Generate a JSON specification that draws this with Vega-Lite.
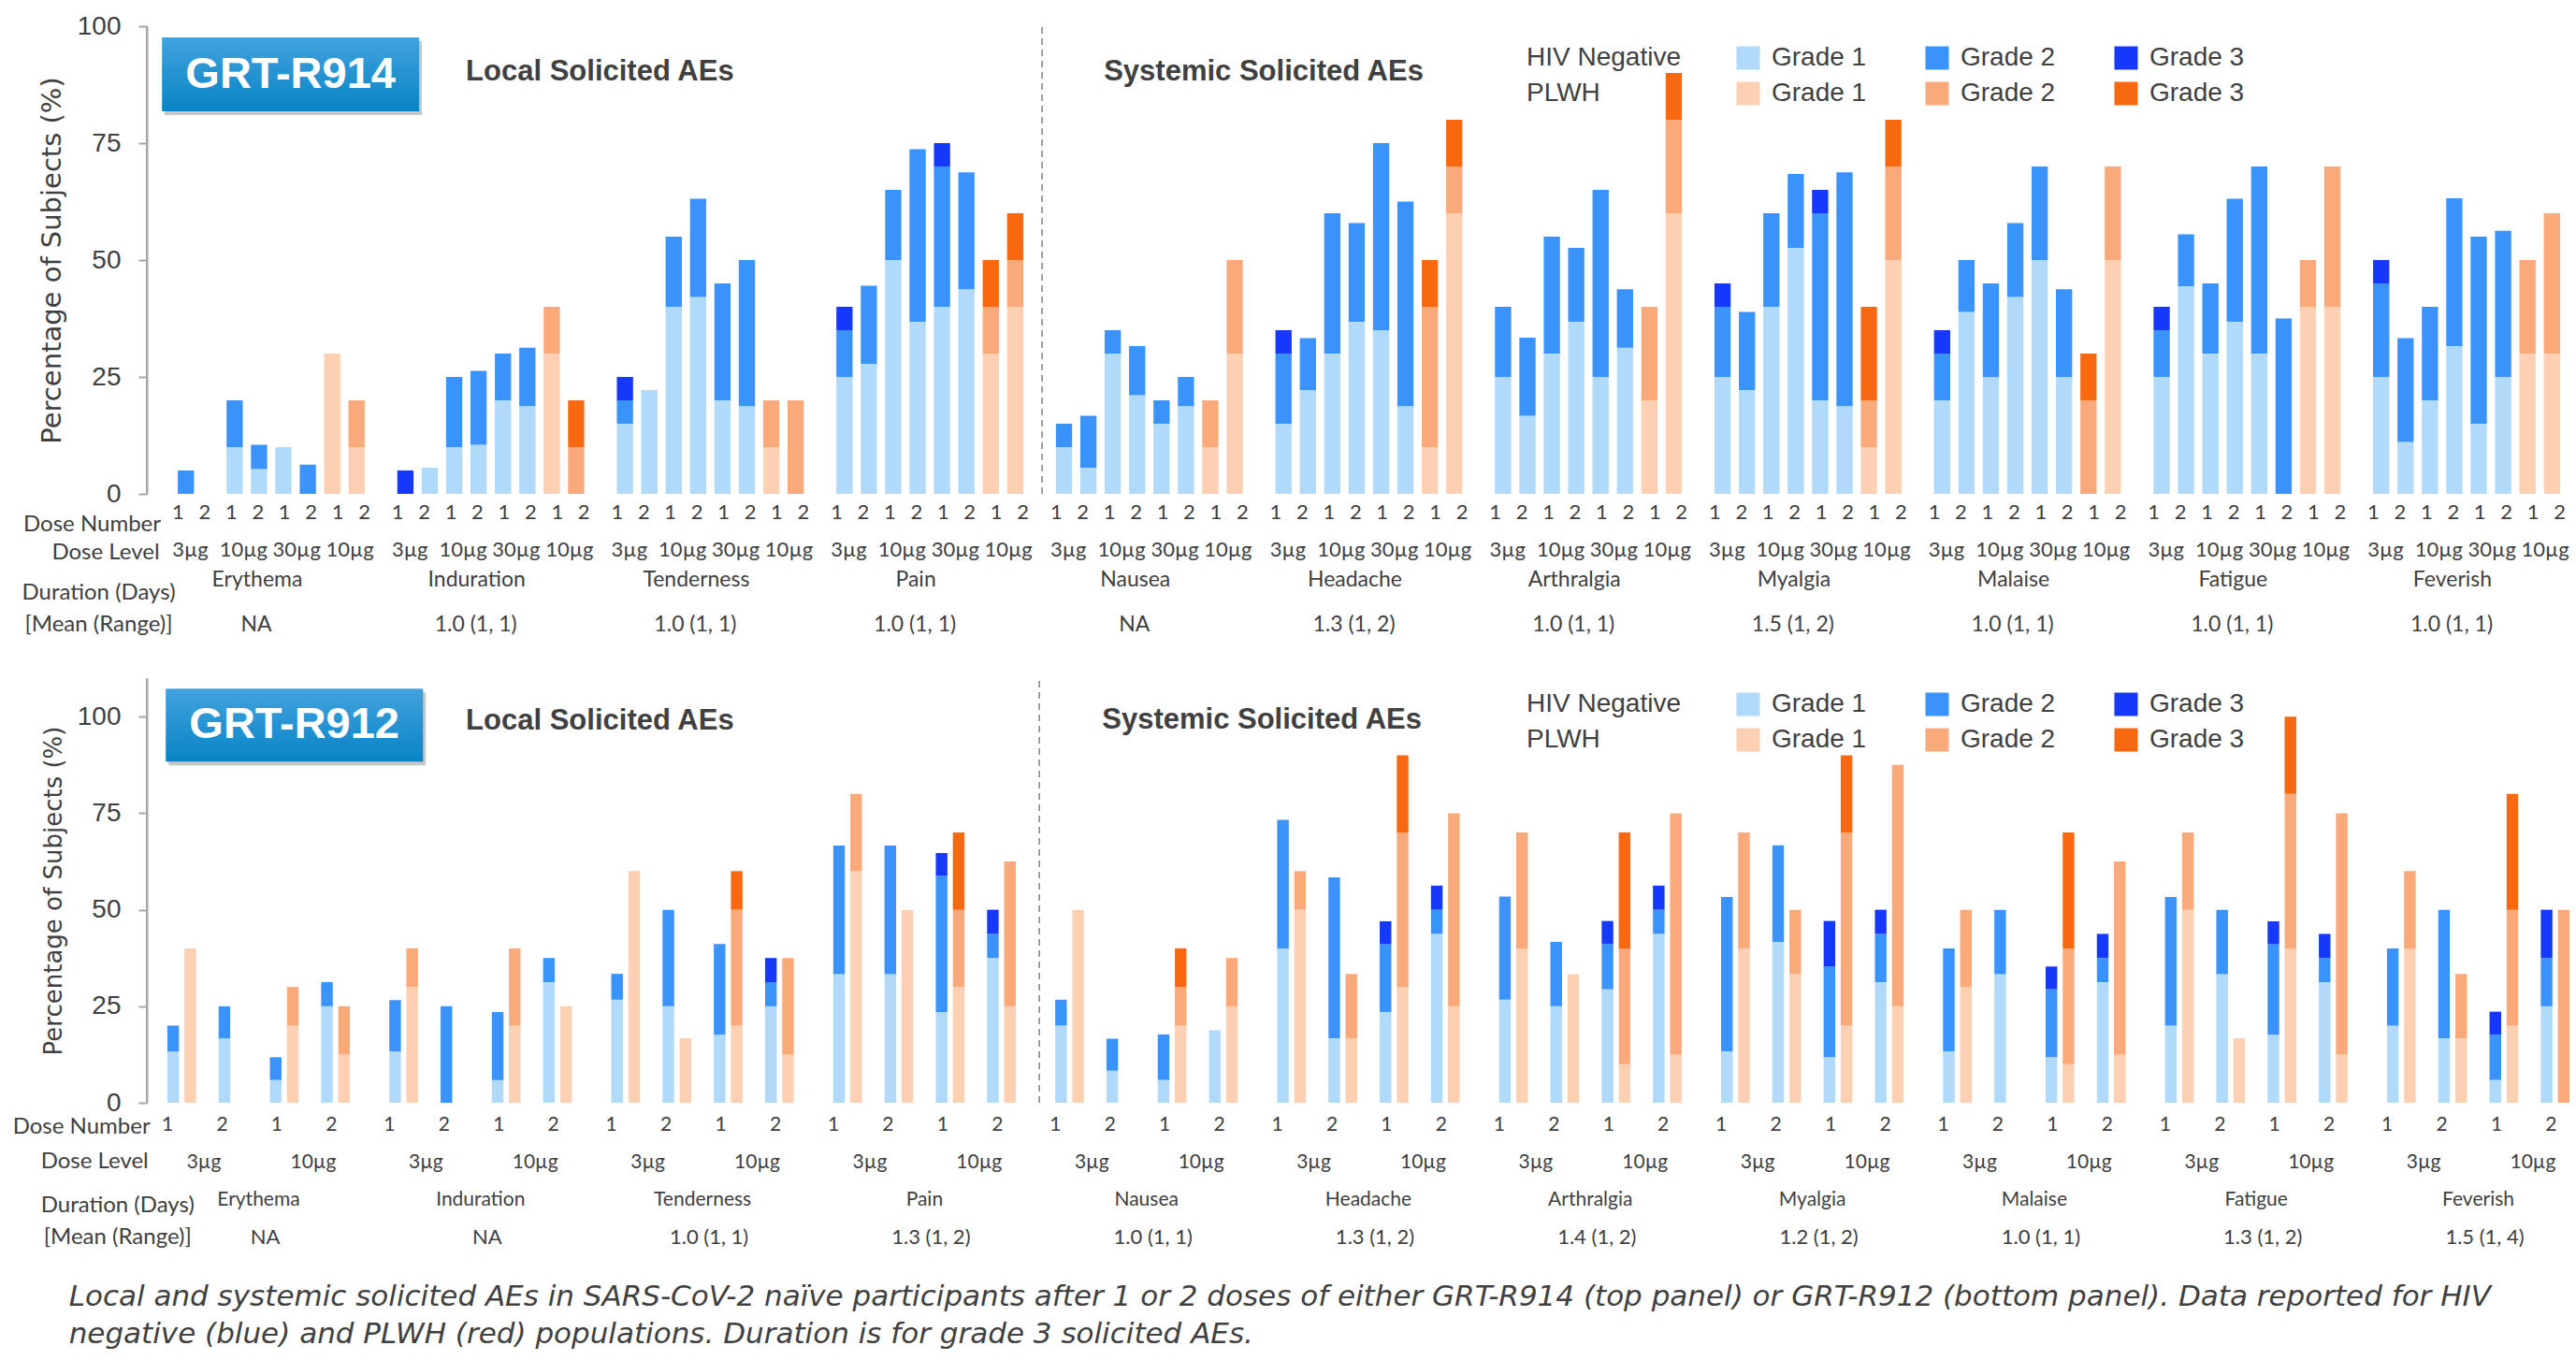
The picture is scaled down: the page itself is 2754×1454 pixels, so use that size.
{
  "$schema": "https://vega.github.io/schema/vega-lite/v6.json",
  "padding": {"left": 13, "top": 14, "right": 0, "bottom": 0},
  "background": "white",
  "title": {
    "text": ["Local and systemic solicited AEs in SARS-CoV-2 naïve participants after 1 or 2 doses of either GRT-R914 (top panel) or GRT-R912 (bottom panel). Data reported for HIV", "negative (blue) and PLWH (red) populations.  Duration is for grade 3 solicited AEs."],
    "orient": "bottom", "anchor": "start", "font": "DejaVu Sans", "fontStyle": "italic", "fontWeight": "normal",
    "fontSize": 31, "color": "#404040", "lineHeight": 40, "offset": 25, "dx": 60
  },
  "datasets": {
    "one": [{}],
    "top": [
      {"ae":"Erythema","bar":"3µg d1","N2":5},
      {"ae":"Erythema","bar":"10µg d1","N1":10,"N2":10},
      {"ae":"Erythema","bar":"10µg d2","N1":5.3,"N2":5.2},
      {"ae":"Erythema","bar":"30µg d1","N1":10},
      {"ae":"Erythema","bar":"30µg d2","N2":6.25},
      {"ae":"Erythema","bar":"PLWH d1","P1":30},
      {"ae":"Erythema","bar":"PLWH d2","P1":10,"P2":10},
      {"ae":"Induration","bar":"3µg d1","N3":5},
      {"ae":"Induration","bar":"3µg d2","N1":5.6},
      {"ae":"Induration","bar":"10µg d1","N1":10,"N2":15},
      {"ae":"Induration","bar":"10µg d2","N1":10.5,"N2":15.8},
      {"ae":"Induration","bar":"30µg d1","N1":20,"N2":10},
      {"ae":"Induration","bar":"30µg d2","N1":18.75,"N2":12.5},
      {"ae":"Induration","bar":"PLWH d1","P1":30,"P2":10},
      {"ae":"Induration","bar":"PLWH d2","P2":10,"P3":10},
      {"ae":"Tenderness","bar":"3µg d1","N1":15,"N2":5,"N3":5},
      {"ae":"Tenderness","bar":"3µg d2","N1":22.2},
      {"ae":"Tenderness","bar":"10µg d1","N1":40,"N2":15},
      {"ae":"Tenderness","bar":"10µg d2","N1":42.1,"N2":21},
      {"ae":"Tenderness","bar":"30µg d1","N1":20,"N2":25},
      {"ae":"Tenderness","bar":"30µg d2","N1":18.75,"N2":31.25},
      {"ae":"Tenderness","bar":"PLWH d1","P1":10,"P2":10},
      {"ae":"Tenderness","bar":"PLWH d2","P2":20},
      {"ae":"Pain","bar":"3µg d1","N1":25,"N2":10,"N3":5},
      {"ae":"Pain","bar":"3µg d2","N1":27.8,"N2":16.7},
      {"ae":"Pain","bar":"10µg d1","N1":50,"N2":15},
      {"ae":"Pain","bar":"10µg d2","N1":36.8,"N2":36.9},
      {"ae":"Pain","bar":"30µg d1","N1":40,"N2":30,"N3":5},
      {"ae":"Pain","bar":"30µg d2","N1":43.75,"N2":25},
      {"ae":"Pain","bar":"PLWH d1","P1":30,"P2":10,"P3":10},
      {"ae":"Pain","bar":"PLWH d2","P1":40,"P2":10,"P3":10},
      {"ae":"Nausea","bar":"3µg d1","N1":10,"N2":5},
      {"ae":"Nausea","bar":"3µg d2","N1":5.6,"N2":11.1},
      {"ae":"Nausea","bar":"10µg d1","N1":30,"N2":5},
      {"ae":"Nausea","bar":"10µg d2","N1":21.1,"N2":10.5},
      {"ae":"Nausea","bar":"30µg d1","N1":15,"N2":5},
      {"ae":"Nausea","bar":"30µg d2","N1":18.75,"N2":6.25},
      {"ae":"Nausea","bar":"PLWH d1","P1":10,"P2":10},
      {"ae":"Nausea","bar":"PLWH d2","P1":30,"P2":20},
      {"ae":"Headache","bar":"3µg d1","N1":15,"N2":15,"N3":5},
      {"ae":"Headache","bar":"3µg d2","N1":22.2,"N2":11.1},
      {"ae":"Headache","bar":"10µg d1","N1":30,"N2":30},
      {"ae":"Headache","bar":"10µg d2","N1":36.8,"N2":21.1},
      {"ae":"Headache","bar":"30µg d1","N1":35,"N2":40},
      {"ae":"Headache","bar":"30µg d2","N1":18.75,"N2":43.75},
      {"ae":"Headache","bar":"PLWH d1","P1":10,"P2":30,"P3":10},
      {"ae":"Headache","bar":"PLWH d2","P1":60,"P2":10,"P3":10},
      {"ae":"Arthralgia","bar":"3µg d1","N1":25,"N2":15},
      {"ae":"Arthralgia","bar":"3µg d2","N1":16.7,"N2":16.7},
      {"ae":"Arthralgia","bar":"10µg d1","N1":30,"N2":25},
      {"ae":"Arthralgia","bar":"10µg d2","N1":36.8,"N2":15.8},
      {"ae":"Arthralgia","bar":"30µg d1","N1":25,"N2":40},
      {"ae":"Arthralgia","bar":"30µg d2","N1":31.25,"N2":12.5},
      {"ae":"Arthralgia","bar":"PLWH d1","P1":20,"P2":20},
      {"ae":"Arthralgia","bar":"PLWH d2","P1":60,"P2":20,"P3":10},
      {"ae":"Myalgia","bar":"3µg d1","N1":25,"N2":15,"N3":5},
      {"ae":"Myalgia","bar":"3µg d2","N1":22.2,"N2":16.7},
      {"ae":"Myalgia","bar":"10µg d1","N1":40,"N2":20},
      {"ae":"Myalgia","bar":"10µg d2","N1":52.6,"N2":15.8},
      {"ae":"Myalgia","bar":"30µg d1","N1":20,"N2":40,"N3":5},
      {"ae":"Myalgia","bar":"30µg d2","N1":18.75,"N2":50},
      {"ae":"Myalgia","bar":"PLWH d1","P1":10,"P2":10,"P3":20},
      {"ae":"Myalgia","bar":"PLWH d2","P1":50,"P2":20,"P3":10},
      {"ae":"Malaise","bar":"3µg d1","N1":20,"N2":10,"N3":5},
      {"ae":"Malaise","bar":"3µg d2","N1":38.9,"N2":11.1},
      {"ae":"Malaise","bar":"10µg d1","N1":25,"N2":20},
      {"ae":"Malaise","bar":"10µg d2","N1":42.1,"N2":15.8},
      {"ae":"Malaise","bar":"30µg d1","N1":50,"N2":20},
      {"ae":"Malaise","bar":"30µg d2","N1":25,"N2":18.75},
      {"ae":"Malaise","bar":"PLWH d1","P2":20,"P3":10},
      {"ae":"Malaise","bar":"PLWH d2","P1":50,"P2":20},
      {"ae":"Fatigue","bar":"3µg d1","N1":25,"N2":10,"N3":5},
      {"ae":"Fatigue","bar":"3µg d2","N1":44.4,"N2":11.1},
      {"ae":"Fatigue","bar":"10µg d1","N1":30,"N2":15},
      {"ae":"Fatigue","bar":"10µg d2","N1":36.8,"N2":26.3},
      {"ae":"Fatigue","bar":"30µg d1","N1":30,"N2":40},
      {"ae":"Fatigue","bar":"30µg d2","N2":37.5},
      {"ae":"Fatigue","bar":"PLWH d1","P1":40,"P2":10},
      {"ae":"Fatigue","bar":"PLWH d2","P1":40,"P2":30},
      {"ae":"Feverish","bar":"3µg d1","N1":25,"N2":20,"N3":5},
      {"ae":"Feverish","bar":"3µg d2","N1":11.1,"N2":22.2},
      {"ae":"Feverish","bar":"10µg d1","N1":20,"N2":20},
      {"ae":"Feverish","bar":"10µg d2","N1":31.6,"N2":31.6},
      {"ae":"Feverish","bar":"30µg d1","N1":15,"N2":40},
      {"ae":"Feverish","bar":"30µg d2","N1":25,"N2":31.25},
      {"ae":"Feverish","bar":"PLWH d1","P1":30,"P2":20},
      {"ae":"Feverish","bar":"PLWH d2","P1":30,"P2":30}
    ],
    "bot": [
      {"ae":"Erythema","slot":"3µg d1 N","N1":13.3,"N2":6.7},
      {"ae":"Erythema","slot":"3µg d1 P","P1":40},
      {"ae":"Erythema","slot":"3µg d2 N","N1":16.7,"N2":8.3},
      {"ae":"Erythema","slot":"10µg d1 N","N1":5.9,"N2":5.9},
      {"ae":"Erythema","slot":"10µg d1 P","P1":20,"P2":10},
      {"ae":"Erythema","slot":"10µg d2 N","N1":25,"N2":6.25},
      {"ae":"Erythema","slot":"10µg d2 P","P1":12.5,"P2":12.5},
      {"ae":"Induration","slot":"3µg d1 N","N1":13.3,"N2":13.3},
      {"ae":"Induration","slot":"3µg d1 P","P1":30,"P2":10},
      {"ae":"Induration","slot":"3µg d2 N","N2":25},
      {"ae":"Induration","slot":"10µg d1 N","N1":5.9,"N2":17.6},
      {"ae":"Induration","slot":"10µg d1 P","P1":20,"P2":20},
      {"ae":"Induration","slot":"10µg d2 N","N1":31.25,"N2":6.25},
      {"ae":"Induration","slot":"10µg d2 P","P1":25},
      {"ae":"Tenderness","slot":"3µg d1 N","N1":26.7,"N2":6.7},
      {"ae":"Tenderness","slot":"3µg d1 P","P1":60},
      {"ae":"Tenderness","slot":"3µg d2 N","N1":25,"N2":25},
      {"ae":"Tenderness","slot":"3µg d2 P","P1":16.7},
      {"ae":"Tenderness","slot":"10µg d1 N","N1":17.6,"N2":23.5},
      {"ae":"Tenderness","slot":"10µg d1 P","P1":20,"P2":30,"P3":10},
      {"ae":"Tenderness","slot":"10µg d2 N","N1":25,"N2":6.25,"N3":6.25},
      {"ae":"Tenderness","slot":"10µg d2 P","P1":12.5,"P2":25},
      {"ae":"Pain","slot":"3µg d1 N","N1":33.3,"N2":33.3},
      {"ae":"Pain","slot":"3µg d1 P","P1":60,"P2":20},
      {"ae":"Pain","slot":"3µg d2 N","N1":33.3,"N2":33.3},
      {"ae":"Pain","slot":"3µg d2 P","P1":50},
      {"ae":"Pain","slot":"10µg d1 N","N1":23.5,"N2":35.3,"N3":5.9},
      {"ae":"Pain","slot":"10µg d1 P","P1":30,"P2":20,"P3":20},
      {"ae":"Pain","slot":"10µg d2 N","N1":37.5,"N2":6.25,"N3":6.25},
      {"ae":"Pain","slot":"10µg d2 P","P1":25,"P2":37.5},
      {"ae":"Nausea","slot":"3µg d1 N","N1":20,"N2":6.7},
      {"ae":"Nausea","slot":"3µg d1 P","P1":50},
      {"ae":"Nausea","slot":"3µg d2 N","N1":8.3,"N2":8.3},
      {"ae":"Nausea","slot":"10µg d1 N","N1":5.9,"N2":11.8},
      {"ae":"Nausea","slot":"10µg d1 P","P1":20,"P2":10,"P3":10},
      {"ae":"Nausea","slot":"10µg d2 N","N1":18.75},
      {"ae":"Nausea","slot":"10µg d2 P","P1":25,"P2":12.5},
      {"ae":"Headache","slot":"3µg d1 N","N1":40,"N2":33.3},
      {"ae":"Headache","slot":"3µg d1 P","P1":50,"P2":10},
      {"ae":"Headache","slot":"3µg d2 N","N1":16.7,"N2":41.7},
      {"ae":"Headache","slot":"3µg d2 P","P1":16.7,"P2":16.7},
      {"ae":"Headache","slot":"10µg d1 N","N1":23.5,"N2":17.6,"N3":5.9},
      {"ae":"Headache","slot":"10µg d1 P","P1":30,"P2":40,"P3":20},
      {"ae":"Headache","slot":"10µg d2 N","N1":43.75,"N2":6.25,"N3":6.25},
      {"ae":"Headache","slot":"10µg d2 P","P1":25,"P2":50},
      {"ae":"Arthralgia","slot":"3µg d1 N","N1":26.7,"N2":26.7},
      {"ae":"Arthralgia","slot":"3µg d1 P","P1":40,"P2":30},
      {"ae":"Arthralgia","slot":"3µg d2 N","N1":25,"N2":16.7},
      {"ae":"Arthralgia","slot":"3µg d2 P","P1":33.3},
      {"ae":"Arthralgia","slot":"10µg d1 N","N1":29.4,"N2":11.8,"N3":5.9},
      {"ae":"Arthralgia","slot":"10µg d1 P","P1":10,"P2":30,"P3":30},
      {"ae":"Arthralgia","slot":"10µg d2 N","N1":43.75,"N2":6.25,"N3":6.25},
      {"ae":"Arthralgia","slot":"10µg d2 P","P1":12.5,"P2":62.5},
      {"ae":"Myalgia","slot":"3µg d1 N","N1":13.3,"N2":40},
      {"ae":"Myalgia","slot":"3µg d1 P","P1":40,"P2":30},
      {"ae":"Myalgia","slot":"3µg d2 N","N1":41.7,"N2":25},
      {"ae":"Myalgia","slot":"3µg d2 P","P1":33.3,"P2":16.7},
      {"ae":"Myalgia","slot":"10µg d1 N","N1":11.8,"N2":23.5,"N3":11.8},
      {"ae":"Myalgia","slot":"10µg d1 P","P1":20,"P2":50,"P3":20},
      {"ae":"Myalgia","slot":"10µg d2 N","N1":31.25,"N2":12.5,"N3":6.25},
      {"ae":"Myalgia","slot":"10µg d2 P","P1":25,"P2":62.5},
      {"ae":"Malaise","slot":"3µg d1 N","N1":13.3,"N2":26.7},
      {"ae":"Malaise","slot":"3µg d1 P","P1":30,"P2":20},
      {"ae":"Malaise","slot":"3µg d2 N","N1":33.3,"N2":16.7},
      {"ae":"Malaise","slot":"10µg d1 N","N1":11.8,"N2":17.6,"N3":5.9},
      {"ae":"Malaise","slot":"10µg d1 P","P1":10,"P2":30,"P3":30},
      {"ae":"Malaise","slot":"10µg d2 N","N1":31.25,"N2":6.25,"N3":6.25},
      {"ae":"Malaise","slot":"10µg d2 P","P1":12.5,"P2":50},
      {"ae":"Fatigue","slot":"3µg d1 N","N1":20,"N2":33.3},
      {"ae":"Fatigue","slot":"3µg d1 P","P1":50,"P2":20},
      {"ae":"Fatigue","slot":"3µg d2 N","N1":33.3,"N2":16.7},
      {"ae":"Fatigue","slot":"3µg d2 P","P1":16.7},
      {"ae":"Fatigue","slot":"10µg d1 N","N1":17.6,"N2":23.5,"N3":5.9},
      {"ae":"Fatigue","slot":"10µg d1 P","P1":40,"P2":40,"P3":20},
      {"ae":"Fatigue","slot":"10µg d2 N","N1":31.25,"N2":6.25,"N3":6.25},
      {"ae":"Fatigue","slot":"10µg d2 P","P1":12.5,"P2":62.5},
      {"ae":"Feverish","slot":"3µg d1 N","N1":20,"N2":20},
      {"ae":"Feverish","slot":"3µg d1 P","P1":40,"P2":20},
      {"ae":"Feverish","slot":"3µg d2 N","N1":16.7,"N2":33.3},
      {"ae":"Feverish","slot":"3µg d2 P","P1":16.7,"P2":16.7},
      {"ae":"Feverish","slot":"10µg d1 N","N1":5.9,"N2":11.8,"N3":5.9},
      {"ae":"Feverish","slot":"10µg d1 P","P1":20,"P2":30,"P3":30},
      {"ae":"Feverish","slot":"10µg d2 N","N1":25,"N2":12.5,"N3":12.5},
      {"ae":"Feverish","slot":"10µg d2 P","P2":50}
    ],
    "topNum": [
      {"row":"Dose Number","bar":"3µg d1","label":"1","ae":["Erythema","Induration","Tenderness","Pain","Nausea","Headache","Arthralgia","Myalgia","Malaise","Fatigue","Feverish"]},
      {"row":"Dose Number","bar":"3µg d2","label":"2","ae":["Erythema","Induration","Tenderness","Pain","Nausea","Headache","Arthralgia","Myalgia","Malaise","Fatigue","Feverish"]},
      {"row":"Dose Number","bar":"10µg d1","label":"1","ae":["Erythema","Induration","Tenderness","Pain","Nausea","Headache","Arthralgia","Myalgia","Malaise","Fatigue","Feverish"]},
      {"row":"Dose Number","bar":"10µg d2","label":"2","ae":["Erythema","Induration","Tenderness","Pain","Nausea","Headache","Arthralgia","Myalgia","Malaise","Fatigue","Feverish"]},
      {"row":"Dose Number","bar":"30µg d1","label":"1","ae":["Erythema","Induration","Tenderness","Pain","Nausea","Headache","Arthralgia","Myalgia","Malaise","Fatigue","Feverish"]},
      {"row":"Dose Number","bar":"30µg d2","label":"2","ae":["Erythema","Induration","Tenderness","Pain","Nausea","Headache","Arthralgia","Myalgia","Malaise","Fatigue","Feverish"]},
      {"row":"Dose Number","bar":"PLWH d1","label":"1","ae":["Erythema","Induration","Tenderness","Pain","Nausea","Headache","Arthralgia","Myalgia","Malaise","Fatigue","Feverish"]},
      {"row":"Dose Number","bar":"PLWH d2","label":"2","ae":["Erythema","Induration","Tenderness","Pain","Nausea","Headache","Arthralgia","Myalgia","Malaise","Fatigue","Feverish"]}
    ],
    "topLvl": [
      {"row":"Dose Level","bar":"3µg d1","label":"3µg","ae":["Erythema","Induration","Tenderness","Pain","Nausea","Headache","Arthralgia","Myalgia","Malaise","Fatigue","Feverish"]},
      {"row":"Dose Level","bar":"10µg d1","label":"10µg","ae":["Erythema","Induration","Tenderness","Pain","Nausea","Headache","Arthralgia","Myalgia","Malaise","Fatigue","Feverish"]},
      {"row":"Dose Level","bar":"30µg d1","label":"30µg","ae":["Erythema","Induration","Tenderness","Pain","Nausea","Headache","Arthralgia","Myalgia","Malaise","Fatigue","Feverish"]},
      {"row":"Dose Level","bar":"PLWH d1","label":"10µg","ae":["Erythema","Induration","Tenderness","Pain","Nausea","Headache","Arthralgia","Myalgia","Malaise","Fatigue","Feverish"]}
    ],
    "topAE": [
      {"ae":"Erythema","dur":"NA"},{"ae":"Induration","dur":"1.0 (1, 1)"},{"ae":"Tenderness","dur":"1.0 (1, 1)"},
      {"ae":"Pain","dur":"1.0 (1, 1)"},{"ae":"Nausea","dur":"NA"},{"ae":"Headache","dur":"1.3 (1, 2)"},
      {"ae":"Arthralgia","dur":"1.0 (1, 1)"},{"ae":"Myalgia","dur":"1.5 (1, 2)"},{"ae":"Malaise","dur":"1.0 (1, 1)"},
      {"ae":"Fatigue","dur":"1.0 (1, 1)"},{"ae":"Feverish","dur":"1.0 (1, 1)"}
    ],
    "botNum": [
      {"row":"Dose Number","slot":"3µg d1 N","label":"1","ae":["Erythema","Induration","Tenderness","Pain","Nausea","Headache","Arthralgia","Myalgia","Malaise","Fatigue","Feverish"]},
      {"row":"Dose Number","slot":"3µg d2 N","label":"2","ae":["Erythema","Induration","Tenderness","Pain","Nausea","Headache","Arthralgia","Myalgia","Malaise","Fatigue","Feverish"]},
      {"row":"Dose Number","slot":"10µg d1 N","label":"1","ae":["Erythema","Induration","Tenderness","Pain","Nausea","Headache","Arthralgia","Myalgia","Malaise","Fatigue","Feverish"]},
      {"row":"Dose Number","slot":"10µg d2 N","label":"2","ae":["Erythema","Induration","Tenderness","Pain","Nausea","Headache","Arthralgia","Myalgia","Malaise","Fatigue","Feverish"]},
      {"row":"Dose Level","slot":"gap 1","label":"3µg","ae":["Erythema","Induration","Tenderness","Pain","Nausea","Headache","Arthralgia","Myalgia","Malaise","Fatigue","Feverish"]},
      {"row":"Dose Level","slot":"gap 3","label":"10µg","ae":["Erythema","Induration","Tenderness","Pain","Nausea","Headache","Arthralgia","Myalgia","Malaise","Fatigue","Feverish"]}
    ],
    "botAE": [
      {"ae":"Erythema","dur":"NA"},{"ae":"Induration","dur":"NA"},{"ae":"Tenderness","dur":"1.0 (1, 1)"},
      {"ae":"Pain","dur":"1.3 (1, 2)"},{"ae":"Nausea","dur":"1.0 (1, 1)"},{"ae":"Headache","dur":"1.3 (1, 2)"},
      {"ae":"Arthralgia","dur":"1.4 (1, 2)"},{"ae":"Myalgia","dur":"1.2 (1, 2)"},{"ae":"Malaise","dur":"1.0 (1, 1)"},
      {"ae":"Fatigue","dur":"1.3 (1, 2)"},{"ae":"Feverish","dur":"1.5 (1, 4)"}
    ]
  },
  "vconcat": [
    {
      "width": 2593, "height": 500,
      "encoding": {
        "x": {"field": "ae", "type": "nominal", "axis": null,
              "scale": {"domain": ["Erythema","Induration","Tenderness","Pain","Nausea","Headache","Arthralgia","Myalgia","Malaise","Fatigue","Feverish"], "paddingInner": 0.1112, "paddingOuter": 0.0797, "align": 0.767}}
      },
      "layer": [
        {
          "data": {"name": "top"},
          "transform": [{"fold": ["N1","N2","N3","P1","P2","P3"], "as": ["grade","pct"]}, {"filter": {"field": "pct", "valid": true}}],
          "mark": {"type": "bar"},
          "encoding": {
            "xOffset": {"field": "bar", "type": "nominal", "scale": {"domain": ["3µg d1","3µg d2","10µg d1","10µg d2","30µg d1","30µg d2","PLWH d1","PLWH d2"], "paddingInner": 0.335, "paddingOuter": 0.1675}},
            "y": {"field": "pct", "type": "quantitative", "stack": "zero",
                  "scale": {"domain": [0, 100], "nice": false},
                  "axis": {"values": [0,25,50,75,100], "title": "Percentage of Subjects (%)", "grid": false, "tickSize": 9, "tickWidth": 2, "tickColor": "#a6a6a6", "domainColor": "#a6a6a6", "domainWidth": 2, "labelFont": "Liberation Sans", "labelFontSize": 28, "labelColor": "#404040", "labelPadding": 19, "titleFont": "DejaVu Sans", "titleFontSize": 29, "titleFontWeight": "normal", "titleColor": "#404040", "titlePadding": 12}},
            "order": {"field": "grade", "sort": "ascending"},
            "color": {"field": "grade", "type": "nominal",
                      "scale": {"domain": ["N1","N2","N3","P1","P2","P3"], "range": ["#b0d9fa","#3a92fb","#1538fb","#fdcfb3","#faa97b","#f76810"]},
                      "legend": {"orient": "none", "legendX": 1475, "legendY": 20, "direction": "horizontal", "columns": 3, "title": ["HIV Negative","PLWH"], "titleOrient": "left", "titleAnchor": "start", "titleBaseline": "top", "titleFont": "Liberation Sans", "titleFontSize": 28, "titleFontWeight": "normal", "titleColor": "#404040", "titleLineHeight": 38, "titlePadding": 58, "titleLimit": 400,
                                 "labelExpr": "'Grade ' + slice(datum.label, 1)", "labelFont": "Liberation Sans", "labelFontSize": 28, "labelColor": "#404040", "labelOffset": 11, "symbolType": "square", "symbolSize": 625, "symbolStrokeWidth": 0, "symbolOpacity": 1, "columnPadding": 61, "rowPadding": 10}}
          }
        },
        {"data": {"name": "one"}, "mark": {"type": "rule", "color": "#a6a6a6", "strokeWidth": 3}, "encoding": {"y": {"datum": 0}}},
        {"data": {"name": "one"}, "mark": {"type": "rule", "color": "#a6a6a6", "strokeWidth": 2}, "encoding": {"y": {"datum": 100}}},
        {"data": {"name": "one"}, "mark": {"type": "rule", "color": "#808080", "strokeWidth": 1.5, "strokeDash": [7, 5]}, "encoding": {"x": {"datum": "Nausea", "bandPosition": -0.05}, "y": {"datum": 0}, "y2": {"datum": 100}}},
        {"data": {"name": "one"}, "mark": {"type": "rect", "fill": "#000000", "opacity": 0.22, "xOffset": 3, "x2Offset": 3, "yOffset": 4, "y2Offset": 4}, "encoding": {"x": {"datum": "Erythema", "bandPosition": -0.06}, "x2": {"datum": "Induration", "bandPosition": 0.133}, "y": {"datum": 97.6}, "y2": {"datum": 81.8}}},
        {"data": {"name": "one"}, "mark": {"type": "rect", "fill": {"gradient": "linear", "x1": 0, "y1": 0, "x2": 0, "y2": 1, "stops": [{"offset": 0, "color": "#42a2de"}, {"offset": 1, "color": "#0884c6"}]}}, "encoding": {"x": {"datum": "Erythema", "bandPosition": -0.06}, "x2": {"datum": "Induration", "bandPosition": 0.133}, "y": {"datum": 97.6}, "y2": {"datum": 81.8}}},
        {"data": {"name": "one"}, "mark": {"type": "text", "font": "Liberation Sans", "fontWeight": "bold", "fontSize": 47, "color": "white", "align": "center", "baseline": "middle"}, "encoding": {"x": {"datum": "Erythema", "bandPosition": 0.599}, "y": {"datum": 89.7}, "text": {"value": "GRT-R914"}}},
        {"data": {"name": "one"}, "mark": {"type": "text", "font": "Liberation Sans", "fontWeight": "bold", "fontSize": 31, "color": "#404040", "align": "left", "baseline": "alphabetic"}, "encoding": {"x": {"datum": "Induration", "bandPosition": 0.3725}, "y": {"datum": 88.4}, "text": {"value": "Local Solicited AEs"}}},
        {"data": {"name": "one"}, "mark": {"type": "text", "font": "Liberation Sans", "fontWeight": "bold", "fontSize": 31, "color": "#404040", "align": "left", "baseline": "alphabetic"}, "encoding": {"x": {"datum": "Nausea", "bandPosition": 0.267}, "y": {"datum": 88.4}, "text": {"value": "Systemic Solicited AEs"}}}
      ]
    },
    {
      "width": 2593, "height": 197,
      "encoding": {
        "x": {"field": "ae", "type": "nominal", "axis": null,
              "scale": {"domain": ["Erythema","Induration","Tenderness","Pain","Nausea","Headache","Arthralgia","Myalgia","Malaise","Fatigue","Feverish"], "paddingInner": 0.1112, "paddingOuter": 0.0797, "align": 0.767}}
      },
      "layer": [
        {
          "data": {"name": "topNum"},
          "transform": [{"flatten": ["ae"]}],
          "mark": {"type": "text", "font": "Lato", "fontSize": 22, "color": "#404040", "baseline": "middle"},
          "encoding": {
            "xOffset": {"field": "bar", "type": "nominal", "scale": {"domain": ["3µg d1","3µg d2","10µg d1","10µg d2","30µg d1","30µg d2","PLWH d1","PLWH d2"], "paddingInner": 0.335, "paddingOuter": 0.1675}},
            "y": {"field": "row", "type": "nominal", "axis": null,
                  "scale": {"type": "band", "domain": ["Dose Number","Dose Level","Duration (Days)","[Mean (Range)]"], "paddingInner": 0, "paddingOuter": 0.4625, "align": 0}},
            "text": {"field": "label"}
          }
        },
        {
          "data": {"name": "topLvl"},
          "transform": [{"flatten": ["ae"]}],
          "mark": {"type": "text", "font": "Lato", "fontSize": 22, "color": "#404040", "baseline": "middle", "dx": 13},
          "encoding": {
            "xOffset": {"field": "bar", "type": "nominal", "scale": {"domain": ["3µg d1","3µg d2","10µg d1","10µg d2","30µg d1","30µg d2","PLWH d1","PLWH d2"], "paddingInner": 0.335, "paddingOuter": 0.1675}},
            "y": {"field": "row", "type": "nominal"},
            "text": {"field": "label"}
          }
        },
        {
          "data": {"name": "topAE"},
          "mark": {"type": "text", "font": "Lato", "fontSize": 23, "color": "#404040", "baseline": "middle", "dx": -15, "dy": -8},
          "encoding": {"y": {"datum": "Duration (Days)"}, "text": {"field": "ae"}}
        },
        {
          "data": {"name": "topAE"},
          "mark": {"type": "text", "font": "Lato", "fontSize": 23, "color": "#404040", "baseline": "middle", "dx": -16},
          "encoding": {"y": {"datum": "[Mean (Range)]"}, "text": {"field": "dur"}}
        },
        {"data": {"name": "one"}, "mark": {"type": "text", "font": "Lato", "fontSize": 24, "color": "#404040", "baseline": "middle", "align": "center", "dy": 13}, "encoding": {"x": {"datum": "Erythema", "bandPosition": -0.418}, "y": {"datum": "Dose Number"}, "text": {"value": "Dose Number"}}},
        {"data": {"name": "one"}, "mark": {"type": "text", "font": "Lato", "fontSize": 24, "color": "#404040", "baseline": "middle", "align": "center", "dy": 3}, "encoding": {"x": {"datum": "Erythema", "bandPosition": -0.3485}, "y": {"datum": "Dose Level"}, "text": {"value": "Dose Level"}}},
        {"data": {"name": "one"}, "mark": {"type": "text", "font": "Lato", "fontSize": 24, "color": "#404040", "baseline": "middle", "align": "center", "dy": 6}, "encoding": {"x": {"datum": "Erythema", "bandPosition": -0.3845}, "y": {"datum": "Duration (Days)"}, "text": {"value": "Duration (Days)"}}},
        {"data": {"name": "one"}, "mark": {"type": "text", "font": "Lato", "fontSize": 24, "color": "#404040", "baseline": "middle", "align": "center"}, "encoding": {"x": {"datum": "Erythema", "bandPosition": -0.3845}, "y": {"datum": "[Mean (Range)]"}, "text": {"value": "[Mean (Range)]"}}}
      ]
    },
    {
      "width": 2593, "height": 454,
      "encoding": {
        "x": {"field": "ae", "type": "nominal", "axis": null,
              "scale": {"domain": ["Erythema","Induration","Tenderness","Pain","Nausea","Headache","Arthralgia","Myalgia","Malaise","Fatigue","Feverish"], "paddingInner": 0.153, "paddingOuter": 0.04, "align": 1}}
      },
      "layer": [
        {
          "data": {"name": "bot"},
          "transform": [{"fold": ["N1","N2","N3","P1","P2","P3"], "as": ["grade","pct"]}, {"filter": {"field": "pct", "valid": true}}],
          "mark": {"type": "bar"},
          "encoding": {
            "xOffset": {"field": "slot", "type": "nominal", "scale": {"domain": ["3µg d1 N","3µg d1 P","gap 1","3µg d2 N","3µg d2 P","gap 2","10µg d1 N","10µg d1 P","gap 3","10µg d2 N","10µg d2 P"], "paddingInner": 0.32, "paddingOuter": 0.16}},
            "y": {"field": "pct", "type": "quantitative", "stack": "zero",
                  "scale": {"domain": [0, 110], "nice": false},
                  "axis": {"values": [0,25,50,75,100], "title": "Percentage of Subjects (%)", "grid": false, "tickSize": 9, "tickWidth": 2, "tickColor": "#a6a6a6", "domainColor": "#a6a6a6", "domainWidth": 2, "labelFont": "Liberation Sans", "labelFontSize": 28, "labelColor": "#404040", "labelPadding": 19, "titleFont": "DejaVu Sans", "titleFontSize": 26, "titleFontWeight": "normal", "titleColor": "#404040", "titlePadding": 12}},
            "order": {"field": "grade", "sort": "ascending"},
            "color": {"field": "grade", "type": "nominal",
                      "scale": {"domain": ["N1","N2","N3","P1","P2","P3"], "range": ["#b0d9fa","#3a92fb","#1538fb","#fdcfb3","#faa97b","#f76810"]},
                      "legend": {"orient": "none", "legendX": 1475, "legendY": 14, "direction": "horizontal", "columns": 3, "title": ["HIV Negative","PLWH"], "titleOrient": "left", "titleAnchor": "start", "titleBaseline": "top", "titleFont": "Liberation Sans", "titleFontSize": 28, "titleFontWeight": "normal", "titleColor": "#404040", "titleLineHeight": 38, "titlePadding": 58, "titleLimit": 400,
                                 "labelExpr": "'Grade ' + slice(datum.label, 1)", "labelFont": "Liberation Sans", "labelFontSize": 28, "labelColor": "#404040", "labelOffset": 11, "symbolType": "square", "symbolSize": 625, "symbolStrokeWidth": 0, "symbolOpacity": 1, "columnPadding": 61, "rowPadding": 10}}
          }
        },
        {"data": {"name": "one"}, "mark": {"type": "rule", "color": "#a6a6a6", "strokeWidth": 3}, "encoding": {"y": {"datum": 0}}},
        {"data": {"name": "one"}, "mark": {"type": "rule", "color": "#a6a6a6", "strokeWidth": 2}, "encoding": {"y": {"datum": 110}}},
        {"data": {"name": "one"}, "mark": {"type": "rule", "color": "#808080", "strokeWidth": 1.5, "strokeDash": [7, 5]}, "encoding": {"x": {"datum": "Nausea", "bandPosition": -0.07}, "y": {"datum": 0}, "y2": {"datum": 110}}},
        {"data": {"name": "one"}, "mark": {"type": "rect", "fill": "#000000", "opacity": 0.22, "xOffset": 3, "x2Offset": 3, "yOffset": 4, "y2Offset": 4}, "encoding": {"x": {"datum": "Erythema", "bandPosition": 0.006}, "x2": {"datum": "Induration", "bandPosition": 0.194}, "y": {"datum": 107.3}, "y2": {"datum": 88.4}}},
        {"data": {"name": "one"}, "mark": {"type": "rect", "fill": {"gradient": "linear", "x1": 0, "y1": 0, "x2": 0, "y2": 1, "stops": [{"offset": 0, "color": "#42a2de"}, {"offset": 1, "color": "#0884c6"}]}}, "encoding": {"x": {"datum": "Erythema", "bandPosition": 0.006}, "x2": {"datum": "Induration", "bandPosition": 0.194}, "y": {"datum": 107.3}, "y2": {"datum": 88.4}}},
        {"data": {"name": "one"}, "mark": {"type": "text", "font": "Liberation Sans", "fontWeight": "bold", "fontSize": 47, "color": "white", "align": "center", "baseline": "middle"}, "encoding": {"x": {"datum": "Erythema", "bandPosition": 0.69}, "y": {"datum": 97.8}, "text": {"value": "GRT-R912"}}},
        {"data": {"name": "one"}, "mark": {"type": "text", "font": "Liberation Sans", "fontWeight": "bold", "fontSize": 31, "color": "#404040", "align": "left", "baseline": "alphabetic"}, "encoding": {"x": {"datum": "Induration", "bandPosition": 0.422}, "y": {"datum": 96.6}, "text": {"value": "Local Solicited AEs"}}},
        {"data": {"name": "one"}, "mark": {"type": "text", "font": "Liberation Sans", "fontWeight": "bold", "fontSize": 31, "color": "#404040", "align": "left", "baseline": "alphabetic"}, "encoding": {"x": {"datum": "Nausea", "bandPosition": 0.264}, "y": {"datum": 96.9}, "text": {"value": "Systemic Solicited AEs"}}}
      ]
    },
    {
      "width": 2593, "height": 168,
      "encoding": {
        "x": {"field": "ae", "type": "nominal", "axis": null,
              "scale": {"domain": ["Erythema","Induration","Tenderness","Pain","Nausea","Headache","Arthralgia","Myalgia","Malaise","Fatigue","Feverish"], "paddingInner": 0.153, "paddingOuter": 0.04, "align": 1}}
      },
      "layer": [
        {
          "data": {"name": "botNum"},
          "transform": [{"flatten": ["ae"]}],
          "mark": {"type": "text", "font": "Lato", "fontSize": 21, "color": "#404040", "baseline": "middle"},
          "encoding": {
            "xOffset": {"field": "slot", "type": "nominal", "scale": {"domain": ["3µg d1 N","3µg d1 P","gap 1","3µg d2 N","3µg d2 P","gap 2","10µg d1 N","10µg d1 P","gap 3","10µg d2 N","10µg d2 P"], "paddingInner": 0.32, "paddingOuter": 0.16}},
            "y": {"field": "row", "type": "nominal", "axis": null,
                  "scale": {"type": "band", "domain": ["Dose Number","Dose Level","Duration (Days)","[Mean (Range)]"], "paddingInner": 0, "paddingOuter": 0.1, "align": 0.5}},
            "text": {"field": "label"}
          }
        },
        {
          "data": {"name": "botAE"},
          "mark": {"type": "text", "font": "Lato", "fontSize": 21, "color": "#404040", "baseline": "middle"},
          "encoding": {"y": {"datum": "Duration (Days)"}, "text": {"field": "ae"}}
        },
        {
          "data": {"name": "botAE"},
          "mark": {"type": "text", "font": "Lato", "fontSize": 22, "color": "#404040", "baseline": "middle", "dx": 7},
          "encoding": {"y": {"datum": "[Mean (Range)]"}, "text": {"field": "dur"}}
        },
        {"data": {"name": "one"}, "mark": {"type": "text", "font": "Lato", "fontSize": 24, "color": "#404040", "baseline": "middle", "align": "center", "dy": 2}, "encoding": {"x": {"datum": "Erythema", "bandPosition": -0.442}, "y": {"datum": "Dose Number"}, "text": {"value": "Dose Number"}}},
        {"data": {"name": "one"}, "mark": {"type": "text", "font": "Lato", "fontSize": 24, "color": "#404040", "baseline": "middle", "align": "center", "dy": -1}, "encoding": {"x": {"datum": "Erythema", "bandPosition": -0.372}, "y": {"datum": "Dose Level"}, "text": {"value": "Dose Level"}}},
        {"data": {"name": "one"}, "mark": {"type": "text", "font": "Lato", "fontSize": 24, "color": "#404040", "baseline": "middle", "align": "center", "dy": 6}, "encoding": {"x": {"datum": "Erythema", "bandPosition": -0.25}, "y": {"datum": "Duration (Days)"}, "text": {"value": "Duration (Days)"}}},
        {"data": {"name": "one"}, "mark": {"type": "text", "font": "Lato", "fontSize": 24, "color": "#404040", "baseline": "middle", "align": "center"}, "encoding": {"x": {"datum": "Erythema", "bandPosition": -0.25}, "y": {"datum": "[Mean (Range)]"}, "text": {"value": "[Mean (Range)]"}}}
      ]
    }
  ],
  "spacing": 0,
  "bounds": "flush",
  "resolve": {"scale": {"x": "independent", "xOffset": "independent", "y": "independent", "color": "independent"}, "legend": {"color": "independent"}},
  "config": {
    "view": {"stroke": null},
    "font": "Liberation Sans"
  }
}
